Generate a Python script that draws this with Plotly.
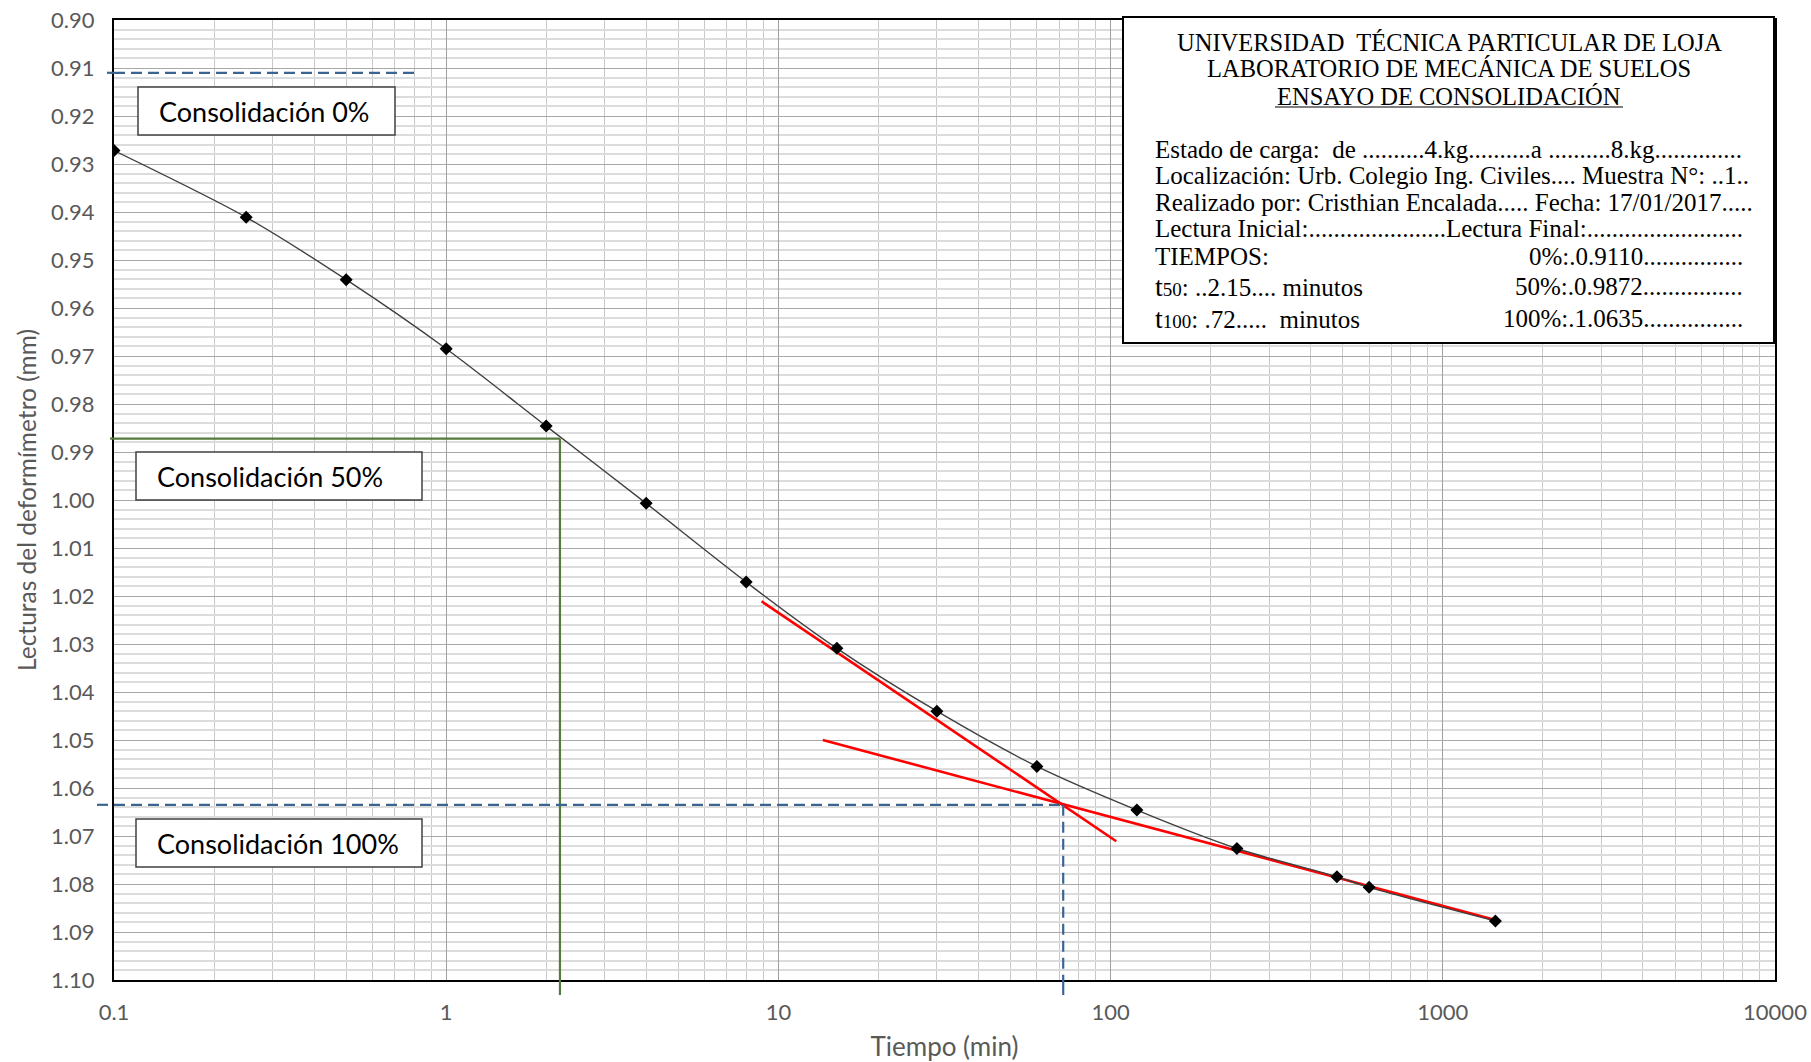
import plotly.graph_objects as go

# ---------------- data ----------------
tiempo_min = [0.1, 0.25, 0.5, 1, 2, 4, 8, 15, 30, 60, 120, 240, 480, 600, 1440]
lectura_mm = [0.9272, 0.9411, 0.9541, 0.9685, 0.9846, 1.0007, 1.0171, 1.0309,
              1.0440, 1.0555, 1.0646, 1.0726, 1.0785, 1.0807, 1.0877]

tangente_x = [8.9, 104]
tangente_y = [1.0211, 1.0711]
asintota_x = [13.6, 1440]
asintota_y = [1.0500, 1.0875]

lectura_0 = 0.9110
lectura_50 = 0.9872
lectura_100 = 1.0635
t50_graf = 2.2
t100 = 72
t_fin_0 = 0.8

x_tickvals = [0.1, 1, 10, 100, 1000, 10000]
x_ticktext = ["0.1", "1", "10", "100", "1000", "10000"]

titulo = ["UNIVERSIDAD  TÉCNICA PARTICULAR DE LOJA",
          "LABORATORIO DE MECÁNICA DE SUELOS",
          "ENSAYO DE CONSOLIDACIÓN"]
cuerpo = ["Estado de carga:  de ..........4.kg..........a ..........8.kg..............",
          "Localización: Urb. Colegio Ing. Civiles.... Muestra N°: ..1..",
          "Realizado por: Cristhian Encalada..... Fecha: 17/01/2017.....",
          "Lectura Inicial:......................Lectura Final:........................."]
tiempos_izq = ["TIEMPOS:",
               "<span style='font-size:28px'>t</span><span style='font-size:19px'>50</span>: ..2.15.... minutos",
               "<span style='font-size:28px'>t</span><span style='font-size:19px'>100</span>: .72.....  minutos"]
tiempos_der = ["0%:.0.9110................",
               "50%:.0.9872................",
               "100%:.1.0635................"]

# ---------------- figure ----------------
W, H = 1811, 1062
PL, PR, PT, PB = 114, 1775, 20, 980          # plot area in window pixels
ML, MT = PL, PT
MR, MB = W - PR, H - PB
PW, PH = PR - PL, PB - PT

def px(xw):
    return (xw - PL) / PW

def py(yw):
    return (PB - yw) / PH

fig = go.Figure()

red = "#FF0000"
fig.add_trace(go.Scatter(x=tangente_x, y=tangente_y, mode="lines",
                         line=dict(color=red, width=2.6), hoverinfo="skip"))
fig.add_trace(go.Scatter(x=asintota_x, y=asintota_y, mode="lines",
                         line=dict(color=red, width=2.6), hoverinfo="skip"))

fig.add_trace(go.Scatter(x=tiempo_min, y=lectura_mm, mode="lines+markers",
                         line=dict(color="#404040", width=1.4, shape="spline", smoothing=0.8),
                         marker=dict(symbol="diamond", size=10, color="black")))

blue = "#3A6593"
green = "#557A3E"
dash = "11px,6px"
shapes = []
# 0% line
shapes.append(dict(type="line", xref="x", yref="y", x0=min(tiempo_min), x1=t_fin_0,
                   y0=lectura_0, y1=lectura_0, line=dict(color=blue, width=2.2, dash=dash)))
shapes.append(dict(type="line", xref="paper", yref="y", x0=px(107), x1=0,
                   y0=lectura_0, y1=lectura_0, line=dict(color=blue, width=2.2)))
# 50% lines
shapes.append(dict(type="line", xref="x", yref="y", x0=min(tiempo_min), x1=t50_graf,
                   y0=lectura_50, y1=lectura_50, line=dict(color=green, width=2.2)))
shapes.append(dict(type="line", xref="paper", yref="y", x0=px(110), x1=0,
                   y0=lectura_50, y1=lectura_50, line=dict(color=green, width=2.2)))
shapes.append(dict(type="line", xref="x", yref="y", x0=t50_graf, x1=t50_graf,
                   y0=lectura_50, y1=1.10, line=dict(color=green, width=2.2)))
shapes.append(dict(type="line", xref="x", yref="paper", x0=t50_graf, x1=t50_graf,
                   y0=0, y1=py(995), line=dict(color=green, width=2.2)))
# 100% lines
shapes.append(dict(type="line", xref="x", yref="y", x0=min(tiempo_min), x1=t100,
                   y0=lectura_100, y1=lectura_100, line=dict(color=blue, width=2.2, dash=dash)))
shapes.append(dict(type="line", xref="paper", yref="y", x0=px(97), x1=0,
                   y0=lectura_100, y1=lectura_100, line=dict(color=blue, width=2.2, dash=dash)))
shapes.append(dict(type="line", xref="x", yref="y", x0=t100, x1=t100,
                   y0=lectura_100, y1=1.10, line=dict(color=blue, width=2.2, dash=dash)))
shapes.append(dict(type="line", xref="x", yref="paper", x0=t100, x1=t100,
                   y0=0, y1=py(995), line=dict(color=blue, width=2.2)))

# label boxes
boxes = [(138, 87, 395, 135, "Consolidación 0%"),
         (136, 452, 422, 500, "Consolidación 50%"),
         (136, 819, 422, 867, "Consolidación 100%")]
annotations = []
for x0, y0, x1, y1, txt in boxes:
    shapes.append(dict(type="rect", xref="paper", yref="paper", x0=px(x0), x1=px(x1),
                       y0=py(y1), y1=py(y0), line=dict(color="#404040", width=1.5),
                       fillcolor="white", layer="above"))
    annotations.append(dict(xref="paper", yref="paper", x=px(x0 + 19), y=py((y0 + y1) / 2),
                            xanchor="left", yanchor="middle", showarrow=False, text=txt,
                            font=dict(family="Lato", size=27, color="black")))

# info box
shapes.append(dict(type="rect", xref="paper", yref="paper", x0=px(1123), x1=px(1774),
                   y0=py(343), y1=py(17), line=dict(color="black", width=2),
                   fillcolor="white", layer="above"))
shapes.append(dict(type="line", xref="paper", yref="paper", x0=px(1275), x1=px(1623),
                   y0=py(107), y1=py(107), line=dict(color="black", width=1.2), layer="above"))

title_font = dict(family="Liberation Serif", size=24.5, color="black")
serif = dict(family="Liberation Serif", size=25, color="black")
cx = px(1449)
for t, yy in zip(titulo, [43, 69, 96]):
    annotations.append(dict(xref="paper", yref="paper", x=cx, y=py(yy), xanchor="center",
                            yanchor="middle", showarrow=False, text=t, font=title_font))
for t, yy in zip(cuerpo, [149, 175, 202, 228]):
    annotations.append(dict(xref="paper", yref="paper", x=px(1153), y=py(yy), xanchor="left",
                            yanchor="middle", showarrow=False, text=t, font=serif))
for tl, tr, yy in zip(tiempos_izq, tiempos_der, [256, 286, 318]):
    annotations.append(dict(xref="paper", yref="paper", x=px(1153), y=py(yy), xanchor="left",
                            yanchor="middle", showarrow=False, text=tl, font=serif))
    annotations.append(dict(xref="paper", yref="paper", x=px(1745), y=py(yy), xanchor="right",
                            yanchor="middle", showarrow=False, text=tr, font=serif))

tickfont = dict(family="Lato", size=22, color="#595959")
fig.update_layout(
    width=W, height=H,
    margin=dict(l=ML, r=MR, t=MT, b=MB, autoexpand=False),
    paper_bgcolor="white", plot_bgcolor="white",
    showlegend=False,
    shapes=shapes, annotations=annotations,
    xaxis=dict(type="log", range=[-1, 4], tickvals=x_tickvals, ticktext=x_ticktext,
               showgrid=True, gridcolor="#A0A0A0", gridwidth=1.2,
               minor=dict(dtick="D1", showgrid=True, gridcolor="#C8C8C8", gridwidth=1.2),
               showline=True, linecolor="black", linewidth=2, mirror=True,
               ticks="", tickfont=tickfont, ticklabelstandoff=12, ticklabeloverflow="allow",
               zeroline=False,
               title=dict(text="Tiempo (min)", font=dict(family="Lato", size=26, color="#595959"),
                          standoff=41)),
    yaxis=dict(range=[1.10, 0.90], dtick=0.01, tick0=0.9, tickformat=".2f",
               showgrid=True, gridcolor="#A8A8A8", gridwidth=1.2,
               minor=dict(dtick=0.002, tick0=0.9, showgrid=True, gridcolor="#DCDCDC", gridwidth=1.5),
               showline=True, linecolor="black", linewidth=2, mirror=True,
               ticks="", tickfont=tickfont, ticklabelstandoff=13, ticklabeloverflow="allow",
               zeroline=False,
               title=dict(text="Lecturas del deformímetro (mm)",
                          font=dict(family="Lato", size=24.5, color="#595959"), standoff=8)),
)

fig.write_html("out.html", config={"displayModeBar": False},
               post_script="document.body.style.margin='0px';document.body.style.overflow='hidden';")
